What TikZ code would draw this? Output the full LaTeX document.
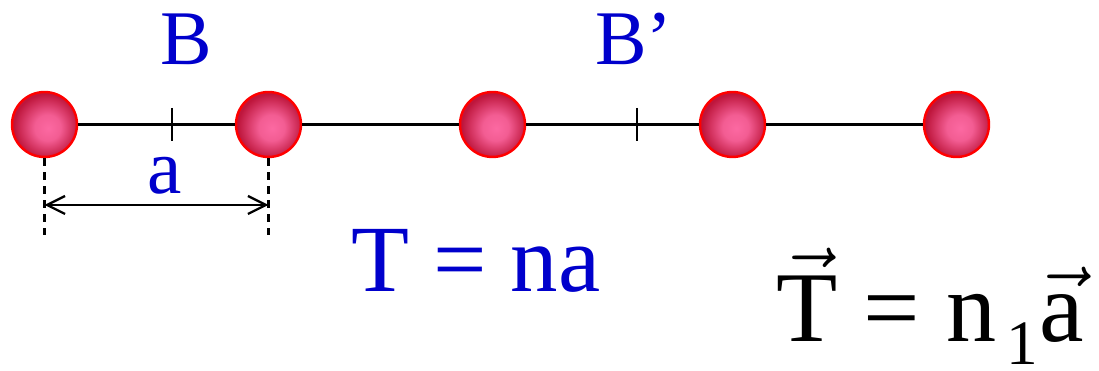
\RequirePackage{fix-cm}
\documentclass[tikz,border=0pt]{standalone}
\usepackage{fontspec}
\setmainfont{Liberation Serif}
\usepackage{xcolor}
\definecolor{LabelBlue}{RGB}{0,0,204}
\definecolor{AtomPink}{RGB}{252,105,162}
\definecolor{AtomDark}{RGB}{190,22,60}
\definecolor{AtomRim}{RGB}{255,0,0}
\usetikzlibrary{arrows.meta}
\pgfdeclareradialshading{atomshade}{\pgfpoint{3bp}{-3bp}}{color(0bp)=(AtomPink); color(10bp)=(AtomPink!85!AtomDark); color(25bp)=(AtomDark); color(50bp)=(AtomDark)}

\begin{document}
\begin{tikzpicture}[x=0.02cm, y=0.02cm,
    atom/.style={circle, draw=AtomRim, line width=1.4pt, shading=atomshade, minimum size=1.3cm, inner sep=0pt},
    bond/.style={line width=1.3pt},
    guide/.style={line width=1.2pt, dash pattern=on 4.5pt off 3.5pt},
    bluelabel/.style={text=LabelBlue, inner sep=0pt, font=\fontsize{44}{48}\selectfont}]
    \useasboundingbox (0,0) rectangle (1099,371);

    % Atoms of the chain
    \foreach \n/\x in {1/44.5, 2/268.5, 3/492.5, 4/732.5, 5/956.5}
        \node[atom] (a\n) at (\x,246.5) {};
    \draw[bond] (a1) -- (a2) -- (a3) -- (a4) -- (a5);

    % Points B and B'
    \coordinate (b) at (172,246.5);
    \coordinate (bp) at (637,246.5);
    \draw[bond] ([yshift=0.33cm]b) -- ([yshift=-0.33cm]b);
    \draw[bond] ([yshift=0.33cm]bp) -- ([yshift=-0.33cm]bp);
    \node[bluelabel, anchor=base] (lblB) at (186,306) {B};
    \node[bluelabel, anchor=base west] (lblBp) at (595,306) {B’};

    % Lattice constant
    \coordinate (g1) at (44.5,136);
    \coordinate (g2) at (268.5,136);
    \draw[guide] (a1.south) -- (g1);
    \draw[guide] (a2.south) -- (g2);
    \coordinate (s1) at (44.5,166);
    \coordinate (s2) at (268.5,166);
    \draw[bond, {Straight Barb[length=0.36cm,width=0.36cm]}-{Straight Barb[length=0.36cm,width=0.36cm]}] (s1) -- (s2);
    \node[bluelabel, anchor=base] (lbla) at (165,177) {a};

    % Translations
    \node[text=LabelBlue, inner sep=0pt, font=\fontsize{54}{58}\selectfont, anchor=base] (eqn) at (476,79) {T = na};
    \node[inner sep=0pt, font=\fontsize{57}{60}\selectfont, anchor=base west] (veq) at (776,29)
        {\(\vec{\mathrm{T}}\)\hspace{0.26em}=\hspace{0.26em}n\hspace{0.1em}\raisebox{-0.22em}{\fontsize{36}{36}\selectfont 1}\hspace{0.02em}\(\vec{\mathrm{a}}\)};
\end{tikzpicture}
\end{document}
